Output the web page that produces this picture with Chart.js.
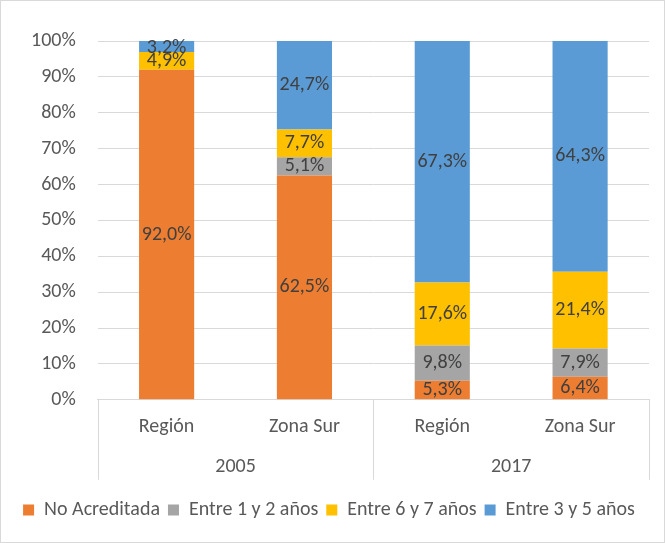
<!DOCTYPE html>
<html>
<head>
<meta charset="utf-8">
<script src="https://cdn.jsdelivr.net/npm/chart.js@4.4.1/dist/chart.umd.min.js"></script>
<style>
  html, body { margin: 0; padding: 0; background: #fff; }
  #wrap { width: 665px; height: 543px; box-sizing: border-box; border: 1px solid #d9d9d9; }
</style>
</head>
<body>
<div id="wrap"><canvas id="chart"></canvas></div>
<script>
// categories
const places = ["Región", "Zona Sur", "Región", "Zona Sur"];
const years = ["2005", "2017"];
const yTicks = [0, 10, 20, 30, 40, 50, 60, 70, 80, 90, 100];

// series values (%)
const noAcreditada = [92.0, 62.5, 5.3, 6.4];
const entre1y2 = [0, 5.1, 9.8, 7.9];
const entre6y7 = [4.9, 7.7, 17.6, 21.4];
const entre3y5 = [3.2, 24.7, 67.3, 64.3];

const FONT = "Carlito, Calibri, 'Open Sans', sans-serif";
const TXT = "#595959";

// value labels in the middle of each segment
const segLabels = {
  id: "segLabels",
  afterDatasetsDraw(chart) {
    const ctx = chart.ctx;
    ctx.save();
    ctx.font = "20px " + FONT;
    ctx.fillStyle = "#404040";
    ctx.textAlign = "center";
    ctx.textBaseline = "middle";
    chart.data.datasets.forEach((ds, i) => {
      chart.getDatasetMeta(i).data.forEach((bar, j) => {
        const v = ds.data[j];
        if (!v) return;
        const y = (bar.y + bar.base) / 2;
        ctx.fillText(v.toFixed(1).replace(".", ",") + "%", bar.x, Math.max(y, chart.chartArea.top + 7));
      });
    });
    ctx.restore();
  }
};

// separators of the two-level category axis
const groupLines = {
  id: "groupLines",
  afterDraw(chart) {
    const x = chart.scales.x, x2 = chart.scales.x2;
    const ctx = chart.ctx;
    const xs = [x2.left, (x2.getPixelForValue(0) + x2.getPixelForValue(1)) / 2, x2.right];
    ctx.save();
    ctx.strokeStyle = "#d9d9d9";
    ctx.lineWidth = 1;
    xs.forEach(px => {
      const p = Math.round(px) + 0.5;
      ctx.beginPath();
      ctx.moveTo(p, x.top);
      ctx.lineTo(p, x2.bottom);
      ctx.stroke();
    });
    ctx.restore();
  }
};

new Chart(document.getElementById("chart"), {
  type: "bar",
  data: {
    labels: places,
    datasets: [
      { label: "No Acreditada", data: noAcreditada, backgroundColor: "#ED7D31" },
      { label: "Entre 1 y 2 años", data: entre1y2, backgroundColor: "#A5A5A5" },
      { label: "Entre 6 y 7 años", data: entre6y7, backgroundColor: "#FFC000" },
      { label: "Entre 3 y 5 años", data: entre3y5, backgroundColor: "#5B9BD5" }
    ]
  },
  options: {
    responsive: true,
    maintainAspectRatio: false,
    animation: false,
    barPercentage: 0.4,
    categoryPercentage: 1,
    layout: { padding: { top: 40, left: 8, right: 15, bottom: 12 } },
    plugins: {
      legend: {
        position: "bottom",
        title: { display: true, text: " ", font: { size: 1 }, padding: { top: 0, bottom: 11 } },
        labels: {
          boxWidth: 11, boxHeight: 11, padding: 8,
          color: TXT, font: { family: FONT, size: 20 }
        }
      },
      tooltip: { enabled: false }
    },
    scales: {
      x: {
        stacked: true,
        grid: { display: false, drawTicks: false },
        border: { color: "#d9d9d9" },
        ticks: { color: TXT, font: { family: FONT, size: 20 }, padding: 15 }
      },
      x2: {
        type: "category",
        labels: years,
        position: "bottom",
        offset: true,
        grid: { display: false, drawTicks: false },
        border: { display: false },
        ticks: { color: TXT, font: { family: FONT, size: 20 }, padding: 1 }
      },
      y: {
        stacked: true,
        min: 0,
        max: 100,
        afterBuildTicks: s => { s.ticks = yTicks.map(v => ({ value: v })); },
        grid: { color: "#d9d9d9", drawTicks: false },
        border: { display: false },
        ticks: {
          color: TXT, font: { family: FONT, size: 20 }, padding: 22,
          callback: v => v + "%"
        }
      }
    }
  },
  plugins: [segLabels, groupLines]
});
</script>
</body>
</html>
